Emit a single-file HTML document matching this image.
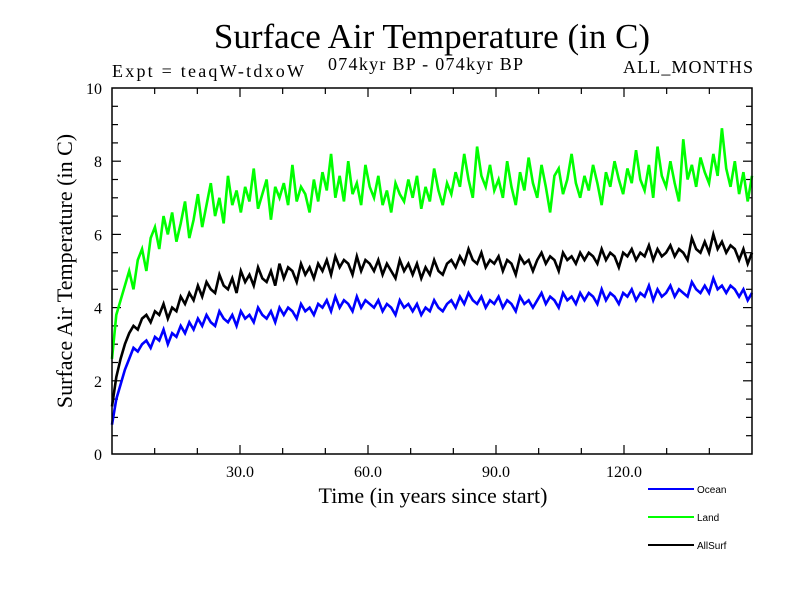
<!DOCTYPE html>
<html><head><meta charset="utf-8"><style>
body{margin:0;background:#fff;}
svg text{font-family:"Liberation Serif",serif;fill:#000;}
</style></head><body>
<svg id="chart" width="800" height="600" xmlns="http://www.w3.org/2000/svg">
<rect width="800" height="600" fill="#fff"/>
<text x="432" y="48" font-size="35" text-anchor="middle">Surface Air Temperature (in C)</text>
<text x="112" y="77" font-size="18" textLength="192">Expt = teaqW-tdxoW</text>
<text x="328" y="70" font-size="18" textLength="195">074kyr BP - 074kyr BP</text>
<text x="623" y="73" font-size="18" textLength="130">ALL_MONTHS</text>
<text x="433" y="503" font-size="22" text-anchor="middle">Time (in years since start)</text>
<text transform="translate(72,271) rotate(-90)" font-size="22" text-anchor="middle">Surface Air Temperature (in C)</text>
<g id="ticks"></g>
<g id="series"></g>
<rect x="112" y="88" width="640" height="366" fill="none" stroke="#000" stroke-width="1.5"/>
<g id="legend"></g>
</svg>
<script>
const xTicks=[30,60,90,120];
const xTickLabels=["30.0","60.0","90.0","120.0"];
const yTicks=[0,2,4,6,8,10];
const yTickLabels=["0","2","4","6","8","10"];
const seriesNames=["Ocean","Land","AllSurf"];
const seriesColors=["#0000ff","#00ff00","#000000"];
const land=[2.6,3.8,4.2,4.6,5.0,4.5,5.3,5.6,5.0,5.9,6.2,5.6,6.5,6.0,6.6,5.8,6.3,6.9,5.9,6.4,7.1,6.2,6.8,7.4,6.5,7.0,6.3,7.6,6.8,7.2,6.6,7.3,6.9,7.8,6.7,7.1,7.5,6.4,7.3,7.0,7.4,6.8,7.9,6.9,7.3,7.1,6.6,7.5,6.9,7.7,7.2,8.2,7.0,7.6,6.9,8.0,7.1,7.4,6.8,7.9,7.3,7.0,7.6,6.8,7.2,6.6,7.4,7.1,6.9,7.5,7.0,7.6,6.7,7.3,6.9,7.8,7.2,6.8,7.4,7.1,7.7,7.3,8.2,7.5,7.0,8.4,7.6,7.3,7.9,7.2,7.5,7.0,8.0,7.3,6.8,7.7,7.2,8.1,7.4,7.0,7.9,7.3,6.6,7.6,7.8,7.1,7.5,8.2,7.4,7.0,7.6,7.2,7.9,7.4,6.8,7.7,7.3,8.0,7.5,7.1,7.8,7.4,8.3,7.5,7.2,7.9,7.0,8.4,7.6,7.3,8.0,7.4,6.9,8.6,7.5,7.9,7.3,8.1,7.7,7.4,8.2,7.6,8.9,7.8,7.3,8.0,7.1,7.7,6.9,7.6];
const ocean=[0.8,1.5,1.9,2.3,2.6,2.9,2.8,3.0,3.1,2.9,3.2,3.1,3.4,3.0,3.3,3.2,3.5,3.3,3.6,3.4,3.7,3.5,3.8,3.6,3.5,3.9,3.7,3.6,3.8,3.5,3.9,3.7,3.8,3.6,4.0,3.8,3.7,3.9,3.6,4.0,3.8,4.0,3.9,3.7,4.1,3.9,4.0,3.8,4.1,4.0,4.2,3.9,4.3,4.0,4.2,4.1,3.9,4.3,4.0,4.2,4.1,4.0,4.2,3.9,4.1,4.0,3.8,4.2,4.0,4.1,3.9,4.1,3.8,4.0,3.9,4.2,4.0,3.9,4.1,4.2,4.0,4.3,4.1,4.4,4.2,4.1,4.3,4.0,4.2,4.1,4.3,4.0,4.2,4.1,3.9,4.3,4.1,4.2,4.0,4.2,4.4,4.1,4.3,4.2,4.0,4.4,4.2,4.3,4.1,4.4,4.2,4.4,4.3,4.1,4.5,4.2,4.4,4.3,4.1,4.4,4.3,4.5,4.2,4.4,4.3,4.6,4.2,4.5,4.3,4.4,4.6,4.3,4.5,4.4,4.3,4.7,4.5,4.4,4.6,4.4,4.8,4.5,4.6,4.4,4.6,4.5,4.3,4.5,4.2,4.4];
const allSurf=[1.3,2.1,2.6,3.0,3.3,3.5,3.4,3.7,3.8,3.6,3.9,3.8,4.1,3.7,4.0,3.9,4.3,4.1,4.4,4.2,4.6,4.3,4.7,4.5,4.4,4.9,4.6,4.5,4.8,4.4,5.0,4.7,4.9,4.6,5.1,4.8,4.7,5.0,4.6,5.2,4.8,5.1,5.0,4.7,5.2,4.9,5.1,4.8,5.2,5.0,5.3,4.9,5.4,5.1,5.3,5.2,4.9,5.4,5.0,5.3,5.2,5.0,5.3,4.9,5.2,5.0,4.8,5.3,5.0,5.2,4.9,5.2,4.8,5.1,4.9,5.3,5.0,4.9,5.2,5.3,5.1,5.4,5.2,5.6,5.3,5.2,5.5,5.1,5.3,5.2,5.4,5.0,5.3,5.2,4.9,5.4,5.2,5.3,5.0,5.3,5.5,5.2,5.4,5.3,5.0,5.5,5.3,5.4,5.2,5.5,5.3,5.5,5.4,5.2,5.6,5.3,5.5,5.4,5.1,5.5,5.4,5.6,5.3,5.5,5.4,5.7,5.3,5.6,5.4,5.5,5.7,5.4,5.6,5.5,5.3,5.9,5.6,5.5,5.8,5.5,6.0,5.6,5.8,5.5,5.7,5.6,5.3,5.6,5.2,5.5];
const NS="http://www.w3.org/2000/svg";
const X0=112,X1=752,Y0=454,Y1=88,XMIN=0,XMAX=150,YMIN=0,YMAX=10;
function xs(v){return X0+(v-XMIN)/(XMAX-XMIN)*(X1-X0);}
function ys(v){return Y0-(v-YMIN)/(YMAX-YMIN)*(Y0-Y1);}
function mk(tag,attrs,parent){const e=document.createElementNS(NS,tag);for(const k in attrs)e.setAttribute(k,attrs[k]);parent.appendChild(e);return e;}
const tg=document.getElementById('ticks');
for(let v=10;v<150;v+=10){const major=v%30===0;const L=major?9:6;
 const t1=mk('line',{x1:xs(v),x2:xs(v),y1:Y0,y2:Y0-L,stroke:'#000','stroke-width':1.2},tg);
 
 
 const t2=mk('line',{x1:xs(v),x2:xs(v),y1:Y1,y2:Y1+L,stroke:'#000','stroke-width':1.2},tg);
 
 }
for(let v=0.5;v<10;v+=0.5){const major=Math.abs(v%2)<1e-6;const L=major?9:6;
 const t1=mk('line',{x1:X0,x2:X0+L,y1:ys(v),y2:ys(v),stroke:'#000','stroke-width':1.2},tg);
 
 
 const t2=mk('line',{x1:X1,x2:X1-L,y1:ys(v),y2:ys(v),stroke:'#000','stroke-width':1.2},tg);
 
 }
xTicks.forEach((v,i)=>{const t=mk('text',{x:xs(v),y:Y0+23,'font-size':16,'text-anchor':'middle'},tg);t.textContent=xTickLabels[i];
 
 });
yTicks.forEach((v,i)=>{const t=mk('text',{x:X0-10,y:ys(v)+6,'font-size':16,'text-anchor':'end'},tg);t.textContent=yTickLabels[i];
 
 });
const sg=document.getElementById('series');
const data=[ocean,land,allSurf];
[1,2,0].forEach(si=>{const arr=data[si];
 const n=arr.length;const p2=arr.map((v,i)=>xs(XMIN+i*(XMAX-XMIN)/(n-1))+','+ys(v)).join(' ');
 const pl=mk('polyline',{points:p2,fill:'none',stroke:seriesColors[si],'stroke-width':2.6,'stroke-linejoin':'miter'},sg);
 
 });
const lg=document.getElementById('legend');
seriesNames.forEach((nm,i)=>{const y=489+28*i;
 const l=mk('line',{x1:648,x2:694,y1:y,y2:y,stroke:seriesColors[i],'stroke-width':2},lg);
 
 
 const t=mk('text',{x:697,y:y+4,'font-size':10,style:'font-family:"Liberation Sans",sans-serif'},lg);t.textContent=nm;
 
 });
</script>
</body></html>
